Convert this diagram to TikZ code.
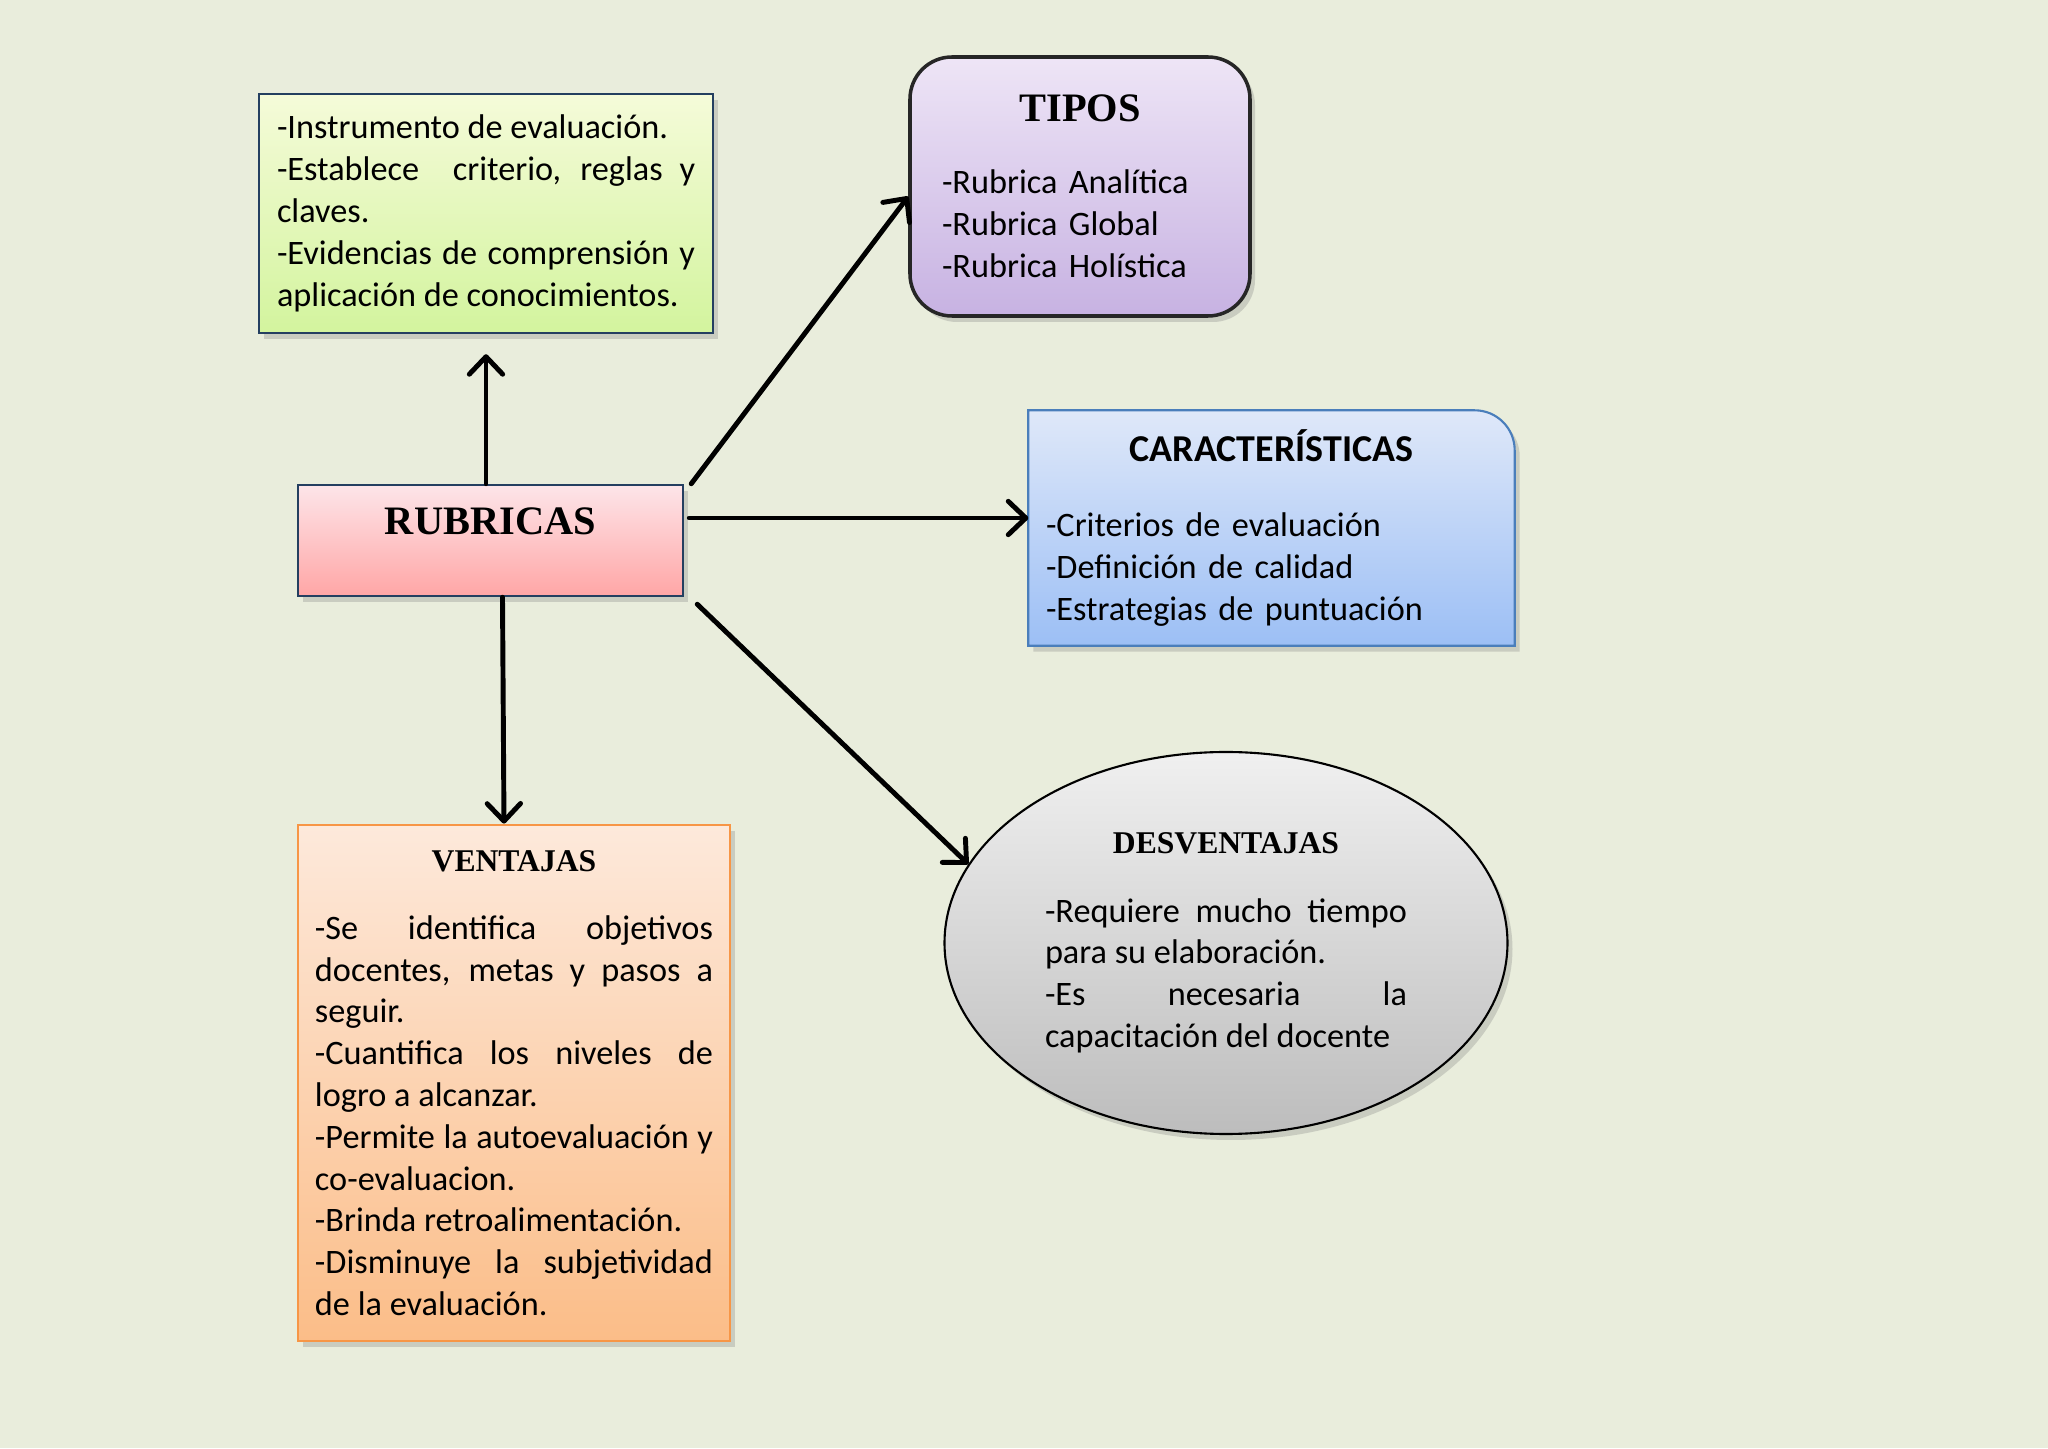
\documentclass[tikz,border=0pt]{standalone}
\usepackage{fontspec}
\setmainfont{Carlito}
\newfontfamily\headfont{Liberation Serif}
\usepackage{tikz}
\usetikzlibrary{positioning, shapes.geometric, shadows, arrows.meta}
\pgfdeclarelayer{back}
\pgfsetlayers{back,main}
\definecolor{paper}{HTML}{E9EDDC}
\definecolor{deftop}{HTML}{F5FBD9}
\definecolor{defbot}{HTML}{D3F49E}
\definecolor{tipostop}{HTML}{EEE5F6}
\definecolor{tiposbot}{HTML}{C7B2E2}
\definecolor{caractop}{HTML}{DFE8F9}
\definecolor{caracbot}{HTML}{9CBFF5}
\definecolor{caracline}{HTML}{4A7EBB}
\definecolor{rubtop}{HTML}{FDE5E9}
\definecolor{rubbot}{HTML}{FFA6A6}
\definecolor{venttop}{HTML}{FDE9DB}
\definecolor{ventbot}{HTML}{FBBD88}
\definecolor{ventline}{HTML}{F79646}
\definecolor{navy}{HTML}{243F60}
\setlength{\parindent}{0pt}
\setlength{\parskip}{0pt}
\hyphenpenalty=10000
\exhyphenpenalty=10000

\begin{document}
\begin{tikzpicture}[
    every node/.style={font=\fontsize{9.75}{11.9}\selectfont, inner ysep=3pt},
    shadowed/.style={drop shadow={shadow xshift=0.05cm, shadow yshift=-0.06cm, opacity=0.3}},
    defbox/.style={shadowed, draw=navy, line width=0.7pt, top color=deftop, bottom color=defbot},
    tiposbox/.style={shadowed, draw=black!85, line width=1pt, rounded corners=0.42cm, top color=tipostop, bottom color=tiposbot},
    caracbox/.style={shadowed, draw=caracline, line width=0.6pt, top color=caractop, bottom color=caracbot},
    rubbox/.style={shadowed, draw=navy, line width=0.7pt, top color=rubtop, bottom color=rubbot},
    ventbox/.style={shadowed, draw=ventline, line width=0.8pt, top color=venttop, bottom color=ventbot},
    desvbox/.style={shadowed, ellipse, draw=black, line width=0.6pt, top color=black!6, bottom color=black!26},
    conn/.style={line width=1.4pt, line cap=round, -{Straight Barb[length=5pt, width=9.5pt, round]}}
  ]
  \path[use as bounding box] (0,0) rectangle (20.48,14.48);
  \begin{pgfonlayer}{back}
    \fill[paper] (0,0) rectangle (20.48,14.48);
  \end{pgfonlayer}

  \node[defbox, text width=4.18cm, inner xsep=0.18cm, minimum height=2.39cm, align=justify] (def) at (4.86,12.345)
    {-Instrumento de evaluación.\par
     -Establece\ \ criterio, reglas y\linebreak claves.\par
     -Evidencias de comprensión y\linebreak aplicación de conocimientos.};

  \node[tiposbox, text width=2.76cm, inner xsep=0.32cm, minimum height=2.59cm, align=left] (tipos) at (10.80,12.615)
    {\makebox[\linewidth]{\headfont\bfseries\fontsize{11.5}{14}\selectfont TIPOS}\par\vspace{8.6pt}
     -Rubrica Analítica\par
     -Rubrica Global\par
     -Rubrica Holística};

  \node[text width=4.51cm, inner xsep=0.17cm, minimum height=2.34cm, align=left] (carac) at (12.715,9.20)
    {\makebox[\linewidth]{\bfseries\fontsize{10.8}{13}\selectfont CARACTERÍSTICAS}\par\vspace{9.4pt}
     -Criterios de evaluación\par
     -Definición de calidad\par
     -Estrategias de puntuación};
  \begin{pgfonlayer}{back}
    \path[caracbox] (carac.south west) -- (carac.north west) -- ([xshift=-0.4cm]carac.north east)
      arc[start angle=90, end angle=0, radius=0.4cm] -- (carac.south east) -- cycle;
  \end{pgfonlayer}

  \node[rubbox, minimum width=3.85cm, minimum height=1.11cm, text height=0.3cm, text depth=0.41cm,
    font=\headfont\bfseries\fontsize{11.5}{14}\selectfont] (rub) at (4.905,9.075) {RUBRICAS};

  \node[ventbox, text width=3.98cm, inner xsep=0.17cm, minimum height=5.16cm, align=justify] (vent) at (5.14,3.65)
    {\makebox[\linewidth]{\headfont\bfseries\fontsize{9}{11}\selectfont VENTAJAS}\par\vspace{7.5pt}
     -Se identifica objetivos\linebreak docentes, metas y pasos a\linebreak seguir.\par
     -Cuantifica los niveles de\linebreak logro a alcanzar.\par
     -Permite la autoevaluación y\linebreak co-evaluacion.\par
     -Brinda retroalimentación.\par
     -Disminuye la subjetividad\linebreak de la evaluación.};

  \node[desvbox, minimum width=5.63cm, minimum height=3.82cm, text width=3.62cm, align=justify] (desv) at (12.26,5.05)
    {\makebox[\linewidth]{\headfont\bfseries\fontsize{9}{11}\selectfont DESVENTAJAS}\par\vspace{7.5pt}
     -Requiere mucho tiempo\linebreak para su elaboración.\par
     -Es necesaria la\linebreak capacitación del docente};

  \draw[conn, shorten >=0.2cm] (rub.north -| def.south) -- (def.south);
  \draw[conn] ([xshift=0.07cm]rub.north east) -- ([yshift=-0.1cm]tipos.west);
  \coordinate (mid) at ([shift={(0.05,0.225)}]rub.east);
  \draw[conn] (mid) -- (mid -| carac.west);
  \draw[conn] ([shift={(0.13,-0.07)}]rub.south east) -- (desv.163.6);
  \draw[conn] ([xshift=0.12cm]rub.south) -- ([xshift=-0.1cm]vent.north);
\end{tikzpicture}
\end{document}
